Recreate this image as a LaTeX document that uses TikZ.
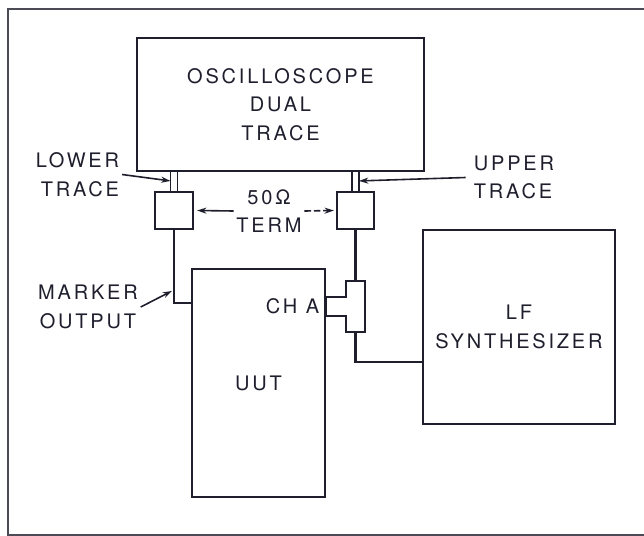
\documentclass[tikz,border=0pt]{standalone}
\usepackage{fontspec}
\setmainfont{TeX Gyre Heros}[LetterSpace=14]
\usetikzlibrary{positioning,calc,arrows.meta}
\definecolor{ink}{RGB}{30,30,45}

\begin{document}
\begin{tikzpicture}[x=0.75pt,y=-0.75pt,
  >={Stealth[length=7pt,width=4.5pt]},
  every node/.style={font=\fontsize{15pt}{21.5pt}\selectfont, align=center, inner sep=2pt, text=ink},
  unit/.style={draw=ink, line width=1.6pt, inner sep=0pt},
  wire/.style={draw=ink, line width=1.6pt},
  pointer/.style={draw=ink, line width=1.2pt, ->}]

  \useasboundingbox (0,0) rectangle (644,536);
  % frame
  \draw[ink!80, line width=1.8pt] (644,9) -- (8,9) -- (8,535) -- (644,535);

  % instruments
  \node[unit, minimum width=215pt, minimum height=100pt] (osc) at (280.5,104.5) {OSCILLOSCOPE\\DUAL\\TRACE};
  \node[unit, minimum width=28.5pt, minimum height=27.75pt] (lterm) at (174,210.5) {};
  \node[unit, minimum width=27.75pt, minimum height=27.75pt] (rterm) at (355.5,210.5) {};
  \node[unit, minimum width=99.75pt, minimum height=171pt] (uut) at (258.5,383) {UUT};
  \node[unit, minimum width=144pt, minimum height=145.5pt] (synth) at (519,327) {LF\\SYNTHESIZER};
  \node[inner sep=0pt, minimum width=13.5pt, minimum height=37.5pt] (tee) at (355.5,306.5) {};

  % probe stubs
  \foreach \t in {lterm,rterm}{
    \foreach \dx in {-3.5,3.5}
      \draw[wire, line width=1.2pt] ($(\t.north)+(\dx,0)$) -- ++(0,-21);
  }

  % tee on CH A
  \draw[wire] (tee.south west) -- ++(0,-15.5) coordinate (a1) -- (a1 -| uut.east)
    -- ++(0,-19) coordinate (a2) -- (a2 -| tee.west) |- (tee.north east)
    -- (tee.south east) -- cycle;

  % cables
  \coordinate (mk) at ($(uut.north west)+(0,35)$);
  \coordinate (lfin) at ($(synth.west)+(0,35)$);
  \draw[wire] (lterm.south) |- (mk);
  \draw[wire] (rterm.south) -- (tee.north);
  \draw[wire] (tee.south) |- (lfin);

  % labels
  \node[anchor=east] (cha) at ($(tee.west -| uut.east)+(-4,0)$) {CH A};
  \node[anchor=east, align=right] (lower) at (122,174.5) {LOWER\\TRACE};
  \node[anchor=west, align=left] (upper) at (471,177.5) {UPPER\\TRACE};
  \node (marker) at (88,307) {MARKER\\OUTPUT};
  \node (term) at (269,211) {50Ω\\TERM};

  \draw[pointer] (lower.east) -- ($(lterm.north)+(-3.5,-10)$);
  \draw[pointer] ([xshift=-4pt]upper.west) -- ($(rterm.north)+(3.5,-10)$);
  \draw[pointer] (marker.east) -- ($(mk -| lterm.south)+(-2,-12)$);
  \draw[pointer] (term.west) -- ($(lterm.east)+(3,0)$);
  \draw[pointer, dash pattern=on 5pt off 2pt] (term.east) -- ($(rterm.west)+(-2,0)$);
\end{tikzpicture}
\end{document}
